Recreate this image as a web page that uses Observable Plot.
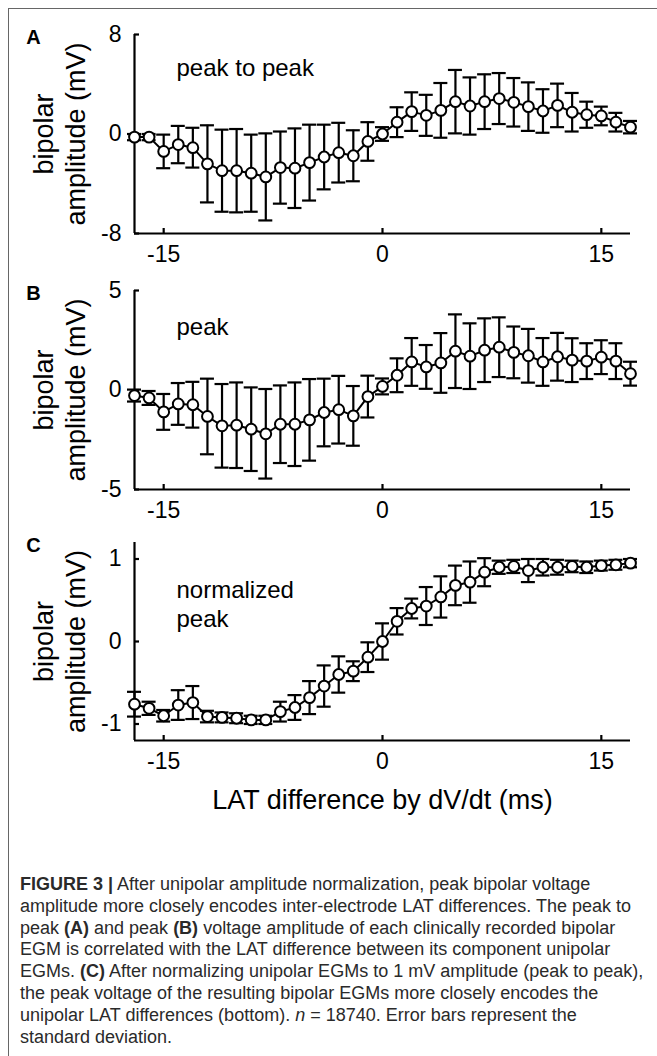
<!DOCTYPE html>
<html>
<head>
<meta charset="utf-8">
<script src="https://cdn.jsdelivr.net/npm/d3@7"></script>
<script src="https://cdn.jsdelivr.net/npm/@observablehq/plot@0.6"></script>
<style>
  body { margin: 0; background: #fff; }
  #fig { position: relative; width: 657px; height: 1056px; overflow: hidden;
         font-family: "Liberation Sans", Arial, Helvetica, sans-serif; }
  #frame { position: absolute; left: 8px; top: 8px; right: -4px; bottom: -4px;
           border-top: 1.5px solid #666; border-left: 1.5px solid #666; }
  .panel { position: absolute; left: 0; }
  #caption { position: absolute; left: 20px; top: 874px; font-size: 18px; line-height: 21.8px;
             color: #2a2a2a; white-space: nowrap; }
</style>
</head>
<body>
<div id="fig">
  <div id="frame"></div>
  <div id="panels"></div>
  <div id="caption"><b>FIGURE 3 |</b> After unipolar amplitude normalization, peak bipolar voltage<br>amplitude more closely encodes inter-electrode LAT differences. The peak to<br>peak <b>(A)</b> and peak <b>(B)</b> voltage amplitude of each clinically recorded bipolar<br>EGM is correlated with the LAT difference between its component unipolar<br>EGMs. <b>(C)</b> After normalizing unipolar EGMs to 1 mV amplitude (peak to peak),<br>the peak voltage of the resulting bipolar EGMs more closely encodes the<br>unipolar LAT differences (bottom). <i>n</i> = 18740. Error bars represent the<br>standard deviation.</div>
</div>
<script>
// LAT difference bins (ms)
const latMs = [-17, -16, -15, -14, -13, -12, -11, -10, -9, -8, -7, -6, -5, -4, -3, -2, -1,
               0, 1, 2, 3, 4, 5, 6, 7, 8, 9, 10, 11, 12, 13, 14, 15, 16, 17];
const xDomain = [-17, 17];
const xTicks = [-15, 0, 15];

// A: peak-to-peak bipolar amplitude (mV), mean and SD
const ptpMean = [-0.25, -0.25, -1.4, -0.85, -1.1, -2.4, -2.95, -2.95, -3.15, -3.45, -2.7, -2.75, -2.3, -1.85, -1.5, -1.75, -0.6,
                 0.0, 0.95, 1.8, 1.5, 1.9, 2.6, 2.25, 2.6, 2.85, 2.55, 2.2, 1.85, 2.3, 1.75, 1.55, 1.45, 0.95, 0.55];
const ptpSd   = [0.25, 0.25, 1.35, 1.5, 1.6, 3.1, 3.3, 3.35, 3.1, 3.5, 2.9, 3.2, 3.05, 2.6, 2.4, 2.05, 1.55,
                 0.55, 1.2, 1.55, 1.65, 2.2, 2.55, 2.3, 2.2, 2.05, 1.95, 1.95, 1.75, 1.75, 1.55, 1.05, 0.75, 0.75, 0.5];

// B: peak bipolar amplitude (mV)
const peakMean = [-0.28, -0.4, -1.1, -0.7, -0.74, -1.33, -1.8, -1.77, -1.97, -2.2, -1.72, -1.72, -1.5, -1.13, -0.99, -1.3, -0.33,
                  0.18, 0.74, 1.41, 1.16, 1.36, 1.95, 1.7, 2.0, 2.15, 1.89, 1.72, 1.41, 1.67, 1.5, 1.45, 1.65, 1.45, 0.82];
const peakSd   = [0.3, 0.35, 0.9, 1.05, 1.15, 1.9, 2.1, 2.15, 2.1, 2.25, 1.95, 2.1, 2.05, 1.7, 1.7, 1.5, 1.05,
                  0.4, 0.85, 1.2, 1.1, 1.5, 1.85, 1.65, 1.6, 1.5, 1.3, 1.35, 1.2, 1.2, 1.1, 0.9, 0.85, 0.9, 0.6];

// C: normalized peak bipolar amplitude (mV)
const normMean = [-0.76, -0.81, -0.9, -0.77, -0.74, -0.91, -0.92, -0.93, -0.95, -0.95, -0.85, -0.8, -0.68, -0.54, -0.4, -0.36, -0.19,
                  0.0, 0.245, 0.4, 0.43, 0.54, 0.68, 0.72, 0.84, 0.9, 0.91, 0.86, 0.9, 0.9, 0.91, 0.9, 0.92, 0.93, 0.95];
const normSd   = [0.15, 0.08, 0.07, 0.18, 0.2, 0.07, 0.06, 0.06, 0.05, 0.05, 0.12, 0.15, 0.2, 0.25, 0.22, 0.12, 0.18,
                  0.22, 0.16, 0.12, 0.23, 0.25, 0.24, 0.25, 0.17, 0.08, 0.08, 0.14, 0.1, 0.09, 0.07, 0.07, 0.06, 0.06, 0.05];

const yLabel = "bipolar\namplitude (mV)";
const xLabel = "LAT difference by dV/dt (ms)";

const FONT = "'Liberation Sans', Arial, Helvetica, sans-serif";
const LW = 2.2;

function panel({mean, sd, yDomain, yTicks, letter, note, svgTop, marginTop, plotH, marginBottom, noteDy, withXLabel}) {
  const rows = latMs.map((x, i) => ({x, m: mean[i], lo: mean[i] - sd[i], hi: mean[i] + sd[i]}));
  const marks = [
    // axis lines
    Plot.ruleX([xDomain[0]], {y1: yDomain[0], y2: yDomain[1], stroke: "#000", strokeWidth: LW}),
    Plot.ruleY([yDomain[0]], {x1: xDomain[0], x2: xDomain[1], stroke: "#000", strokeWidth: LW}),
    // inward tick marks
    Plot.ruleY(yTicks, {x1: xDomain[0], x2: xDomain[0], insetRight: -5, stroke: "#000", strokeWidth: LW}),
    Plot.ruleX(xTicks, {y1: yDomain[0], y2: yDomain[0], insetTop: -5, stroke: "#000", strokeWidth: LW}),
    // tick labels
    Plot.text(yTicks, {x: xDomain[0], y: d => d, text: d => String(d), textAnchor: "end", dx: -13, fontSize: 23, fill: "#000"}),
    Plot.text(xTicks, {x: d => d, y: yDomain[0], text: d => String(d), dy: 21, fontSize: 23, fill: "#000"}),
    // y-axis title, two lines, rotated
    Plot.text([yLabel], {frameAnchor: "left", rotate: -90, dx: -76, textAnchor: "middle", lineAnchor: "middle",
                         fontSize: 27, lineHeight: 1.2, fill: "#000"}),
    // panel letter and annotation
    Plot.text([letter], {frameAnchor: "top-left", dx: -101, dy: 3, textAnchor: "middle", lineAnchor: "middle",
                         fontSize: 20, fontWeight: "bold", fill: "#000"}),
    Plot.text([note], {frameAnchor: "top-left", dx: 42, dy: noteDy, textAnchor: "start", lineAnchor: "middle",
                       fontSize: 24, lineHeight: 1.21, fill: "#000"}),
    // error bars with caps
    Plot.ruleX(rows, {x: "x", y1: "lo", y2: "hi", stroke: "#000", strokeWidth: LW}),
    Plot.ruleY(rows, {x1: "x", x2: "x", y: "hi", insetLeft: -7, insetRight: -7, stroke: "#000", strokeWidth: LW}),
    Plot.ruleY(rows, {x1: "x", x2: "x", y: "lo", insetLeft: -7, insetRight: -7, stroke: "#000", strokeWidth: LW}),
    // mean line and open markers
    Plot.line(rows, {x: "x", y: "m", stroke: "#000", strokeWidth: 2}),
    Plot.dot(rows, {x: "x", y: "m", r: 5.4, fill: "#fff", stroke: "#000", strokeWidth: 2})
  ];
  if (withXLabel) {
    marks.push(Plot.text([xLabel], {frameAnchor: "bottom", dy: 60, lineAnchor: "middle", fontSize: 27, fill: "#000"}));
  }
  const svg = Plot.plot({
    width: 657,
    height: marginTop + plotH + marginBottom,
    marginTop, marginBottom, marginLeft: 134, marginRight: 27,
    x: {domain: xDomain, axis: null},
    y: {domain: yDomain, axis: null},
    style: {fontFamily: FONT, background: "transparent", overflow: "visible", color: "#000"},
    marks
  });
  svg.classList.add("panel");
  svg.style.top = svgTop + "px";
  return svg;
}

const host = document.getElementById("panels");
host.append(
  panel({mean: ptpMean, sd: ptpSd, yDomain: [-8, 8], yTicks: [-8, 0, 8], letter: "A", note: "peak to peak",
         svgTop: 0, marginTop: 34, plotH: 199, marginBottom: 37, noteDy: 32}),
  panel({mean: peakMean, sd: peakSd, yDomain: [-5, 5], yTicks: [-5, 0, 5], letter: "B", note: "peak",
         svgTop: 262, marginTop: 28, plotH: 199, marginBottom: 37, noteDy: 35}),
  panel({mean: normMean, sd: normSd, yDomain: [-1.2, 1.2], yTicks: [-1, 0, 1], letter: "C", note: "normalized\npeak",
         svgTop: 516, marginTop: 26, plotH: 198, marginBottom: 90, noteDy: 61, withXLabel: true})
);
</script>
</body>
</html>
